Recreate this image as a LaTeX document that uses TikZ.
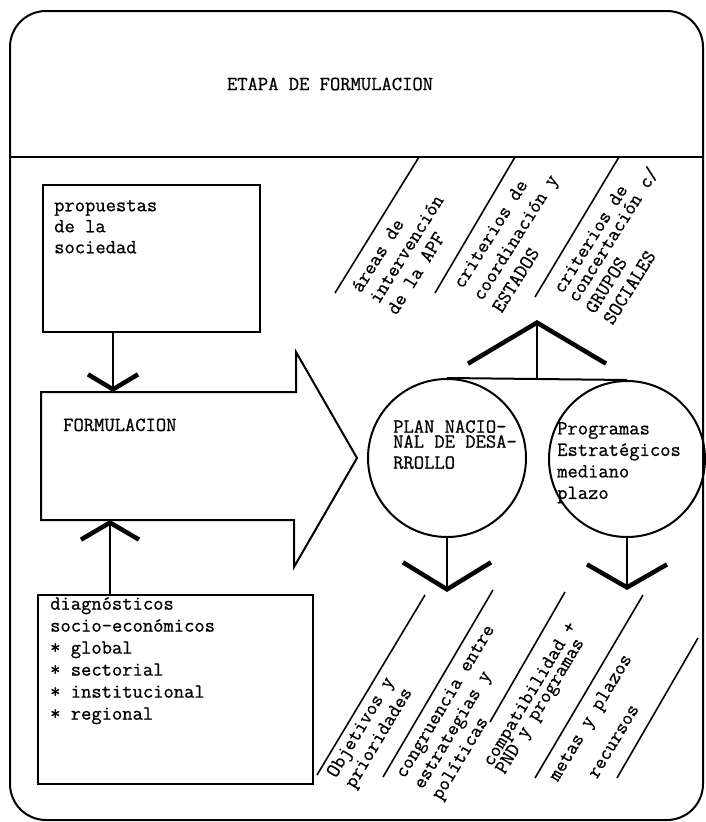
\documentclass[tikz,border=0pt]{standalone}
\usepackage{fontspec}
\newfontfamily\typew{Latin Modern Mono}[FakeBold=0.8]
\usepackage{tikz}
\usetikzlibrary{arrows.meta}
\tikzset{
  outline/.style={line width=2pt},
  box/.style={draw, line width=2pt, inner sep=0pt},
  circ/.style={draw, circle, line width=2pt, inner sep=0pt},
  txt/.style={font=\fontsize{20}{21}\selectfont\typew, inner sep=0pt, align=left},
  slant/.style={line width=1.6pt},
  vee/.style 2 args={line width=1.8pt, -{Straight Barb[length=#1, width=#2, line width=4.5pt]}},
}

\begin{document}
\begin{tikzpicture}[x=1pt,y=-1pt]
  %%%%% FRAME %%%%%
  \useasboundingbox (0,0) rectangle (705,822);
  \draw[outline, rounded corners=36pt] (10,11) rectangle (703,820);
  \draw[outline] (10,157) -- (703,157);
  \node[txt] (title) at (330,84) {ETAPA DE FORMULACION};

  %%%%% LEFT COLUMN %%%%%
  \node[box, anchor=north west, minimum width=217pt, minimum height=147pt] (prop) at (42,184) {};
  \node[txt, anchor=north west] (proptxt) at (54,200) {propuestas\\de la\\sociedad};

  \draw[outline] (41,392) -- (296,392) -- (296,352) -- (357,458) -- (294,567) -- (294,520) -- (41,520) -- cycle;
  \coordinate (ftop) at (113,392);
  \coordinate (fbot) at (110,520);
  \node[txt, anchor=base west] (form) at (63,431) {FORMULACION};

  \node[box, anchor=north west, minimum width=275pt, minimum height=189pt] (diag) at (37,594) {};
  \node[txt, anchor=north west, font=\fontsize{20}{22}\selectfont\typew] (diagtxt) at (50,597)
    {diagnósticos\\socio-económicos\\* global\\* sectorial\\* institucional\\* regional};

  \draw[vee={15pt}{50pt}] (prop.south -| ftop) -- (ftop);
  \draw[vee={17pt}{58pt}] (diag.north -| fbot) -- (fbot);

  %%%%% CIRCLES %%%%%
  \node[circ, minimum size=158pt] (pnd) at (447,458) {};
  \node[circ, minimum size=156pt] (prog) at (627,459) {};
  \node[txt, anchor=north west] (pndtxt) at (393,420) {PLAN NACIO-\\[-6pt]NAL DE DESA-\\RROLLO};
  \node[txt, anchor=north west, font=\fontsize{20}{21.5}\selectfont\typew] (progtxt) at (557,422)
    {Programas\\Estratégicos\\mediano\\plazo};

  \coordinate (apex) at (537,320);
  \coordinate (pndend) at (447,592);
  \coordinate (progend) at (627,590);
  \draw[outline] (pnd.north) -- (prog.north);
  \draw[vee={41pt}{138pt}] (apex |- pnd.north) -- (apex);
  \draw[vee={27pt}{88pt}] (pnd.south) -- (pndend);
  \draw[vee={23pt}{80pt}] (prog.south) -- (progend);

  %%%%% TOP SLANTS %%%%%
  \draw[slant] (419,157) -- (335,293);
  \draw[slant] (515,157) -- (435,293);
  \draw[slant] (619,157) -- (535,297);
  \node[txt, rotate=58, anchor=north west] (apf) at (350,287) {áreas de\\intervención\\de la APF};
  \node[txt, rotate=58, anchor=north west, font=\fontsize{20}{23}\selectfont\typew] (edos) at (452,283)
    {criterios de\\coordinación y\\ESTADOS};
  \node[txt, rotate=58, anchor=north west] (grupos) at (552,288)
    {criterios de\\[-4pt]concertación c/\\GRUPOS\\SOCIALES};

  %%%%% BOTTOM SLANTS %%%%%
  \draw[slant] (425,595) -- (317,775);
  \draw[slant] (493,590) -- (383,777);
  \draw[slant] (565,592) -- (490,722);
  \draw[slant] (643,595) -- (535,778);
  \draw[slant] (698,638) -- (617,778);
  \node[txt, rotate=59, anchor=north west] (obj) at (325,772) {Objetivos y\\prioridades};
  \node[txt, rotate=59, anchor=north west] (cong) at (394,773) {congruencia entre\\estrategias y\\políticas};
  \node[txt, rotate=59, anchor=north west] (comp) at (481,761) {compatibilidad +\\[-6pt]PND y programas};
  \node[txt, rotate=59, anchor=north west] (metas) at (547,776) {metas y plazos};
  \node[txt, rotate=59, anchor=north west] (recur) at (589,775) {recursos};
\end{tikzpicture}
\end{document}
